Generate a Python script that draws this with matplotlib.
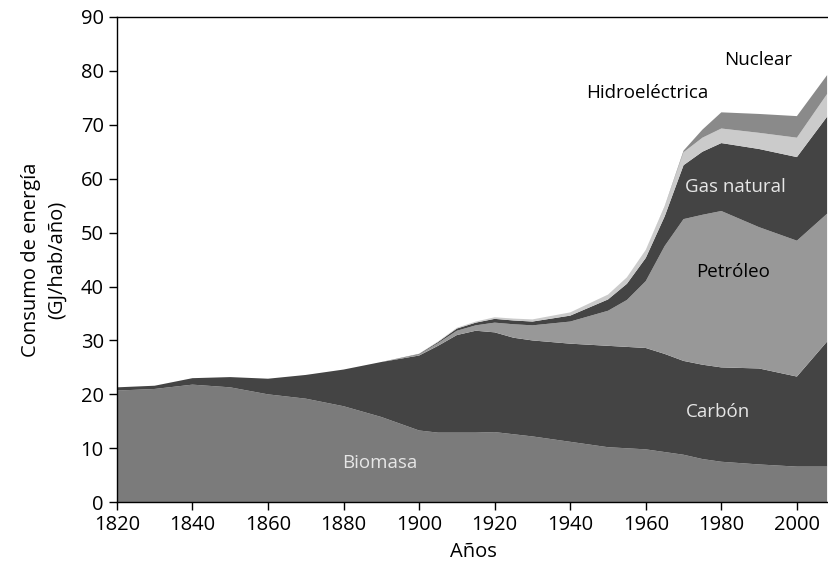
import matplotlib.pyplot as plt
import numpy as np

plt.rcParams['font.family'] = ['Open Sans', 'DejaVu Sans']

years = [1820, 1830, 1840, 1850, 1860, 1870, 1880, 1890, 1900, 1905, 1910, 1915, 1920,
         1925, 1930, 1940, 1950, 1955, 1960, 1965, 1970, 1975, 1980, 1990, 2000, 2008]

biomasa = [20.7, 21.0, 21.8, 21.3, 20.0, 19.2, 17.8, 15.8, 13.3, 12.9, 12.9, 12.9, 13.0,
           12.6, 12.2, 11.2, 10.2, 10.0, 9.8, 9.3, 8.8, 8.0, 7.5, 7.0, 6.6, 6.6]
carbon = [0.6, 0.6, 1.2, 1.9, 2.9, 4.4, 6.8, 10.2, 13.9, 16.1, 18.1, 18.9, 18.5,
          17.9, 17.8, 18.2, 18.8, 18.8, 18.8, 18.2, 17.4, 17.5, 17.5, 17.8, 16.7, 23.2]
petroleo = [0, 0, 0, 0, 0, 0, 0, 0, 0.2, 0.5, 0.8, 1.0, 1.8,
            2.5, 2.8, 4.1, 6.5, 8.7, 12.4, 20.0, 26.3, 27.8, 29.0, 26.2, 25.2, 23.7]
gas = [0, 0, 0, 0, 0, 0, 0, 0, 0.1, 0.2, 0.4, 0.5, 0.7,
       0.7, 0.7, 1.1, 2.1, 3.0, 4.3, 5.5, 10.0, 11.7, 12.6, 14.5, 15.5, 18.0]
hidro = [0, 0, 0, 0, 0, 0, 0, 0, 0.05, 0.1, 0.15, 0.2, 0.3,
         0.35, 0.4, 0.6, 0.9, 1.2, 1.5, 1.8, 2.4, 2.6, 2.7, 3.0, 3.6, 4.2]
nuclear = [0, 0, 0, 0, 0, 0, 0, 0, 0, 0, 0, 0, 0,
           0, 0, 0, 0, 0, 0, 0.1, 0.3, 1.5, 3.0, 3.5, 4.0, 3.5]

colors = ['#7b7b7b', '#444444', '#989898', '#444444', '#cbcbcb', '#8a8a8a']

fig = plt.figure(figsize=(8.29, 5.63), dpi=100)
ax = fig.add_axes([0.141, 0.108, 0.859, 0.862])

ax.stackplot(years, biomasa, carbon, petroleo, gas, hidro, nuclear,
             colors=colors, linewidth=0)

ax.text(1889.6, 7.2, 'Biomasa', color='#e6e6e6', fontsize=13.5, ha='center', va='center')
ax.text(1979.1, 16.7, 'Carbón', color='#e6e6e6', fontsize=13.5, ha='center', va='center')
ax.text(1983, 42.7, 'Petróleo', color='black', fontsize=13.5, ha='center', va='center')
ax.text(1983.6, 58.5, 'Gas natural', color='#e6e6e6', fontsize=13.5, ha='center', va='center')
ax.text(1960.5, 75.9, 'Hidroeléctrica', color='black', fontsize=13.5, ha='center', va='center')
ax.text(1989.7, 82.0, 'Nuclear', color='black', fontsize=13.5, ha='center', va='center')

ax.set_xlim(1820, 2008.5)
ax.set_ylim(0, 90)
ax.set_xticks(range(1820, 2001, 20))
ax.set_yticks(range(0, 91, 10))
ax.tick_params(labelsize=14.5, direction='out', length=6, width=1)
ax.spines['right'].set_visible(False)
for s in ['left', 'bottom', 'top']:
    ax.spines[s].set_linewidth(1)

ax.set_xlabel('Años', fontsize=14.5, labelpad=5)
ax.set_ylabel('Consumo de energía\n(GJ/hab/año)', fontsize=14.5, labelpad=10, linespacing=1.4)

fig.savefig('out.png', dpi=100)
